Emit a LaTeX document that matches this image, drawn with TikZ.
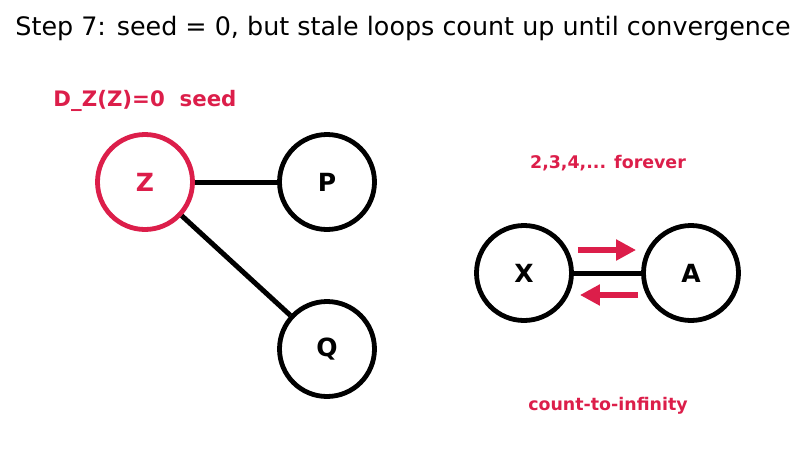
\documentclass[tikz,border=0pt]{standalone}
\usepackage{fontspec}
\setmainfont{DejaVu Sans}
\usepackage{xcolor}
\usetikzlibrary{arrows.meta, positioning, calc}
\definecolor{alertred}{RGB}{220, 30, 74}

\begin{document}
\begin{tikzpicture}[
    x=1pt, y=1pt,
    router/.style={circle, draw=black, line width=4.8pt, fill=white,
                   minimum size=95pt, inner sep=0pt,
                   font=\fontsize{25}{29}\selectfont\bfseries},
    seed/.style={router, draw=alertred, text=alertred},
    link/.style={line width=5pt, black},
    update/.style={-{Triangle[length=20pt, width=20pt]}, line width=5.2pt, alertred},
    note/.style={text=alertred, font=\fontsize{17.4}{20}\selectfont\bfseries},
]
\useasboundingbox (0,0) rectangle (806,-469);

%% ── Title ───────────────────────────────────────────────────────────────────
\node (title) at (403,-28) {\fontsize{25.4}{30}\selectfont Step 7: seed = 0, but stale loops count up until convergence};

%% ── Left part: seed and its neighbours ──────────────────────────────────────
\node[note, font=\fontsize{21.3}{25}\selectfont\bfseries] (seedlbl) at (145,-101) {D\_Z(Z)=0\ \ seed};
\node[seed]   (Z) at (145,-182) {Z};
\node[router] (P) at (327,-182) {P};
\node[router] (Q) at (327,-349) {Q};

\draw[link] (Z) -- (P);
\draw[link] (Z) -- (Q);

%% ── Right part: stale loop ──────────────────────────────────────────────────
\node[note] (forever) at (608,-163) {2,3,4,... forever};
\node[router] (X) at (524,-273) {X};
\node[router] (A) at (691,-273) {A};
\node[note] (cti) at (608,-406) {count-to-infinity};

\draw[link] (X) -- (A);

\coordinate (up1) at ($(X.east)+(4,23)$);
\coordinate (up2) at ($(A.west)+(-5,23)$);
\coordinate (dn1) at ($(A.west)+(-3,-22)$);
\coordinate (dn2) at ($(X.east)+(6,-22)$);
\draw[update] (up1) -- (up2);
\draw[update] (dn1) -- (dn2);

\end{tikzpicture}
\end{document}
